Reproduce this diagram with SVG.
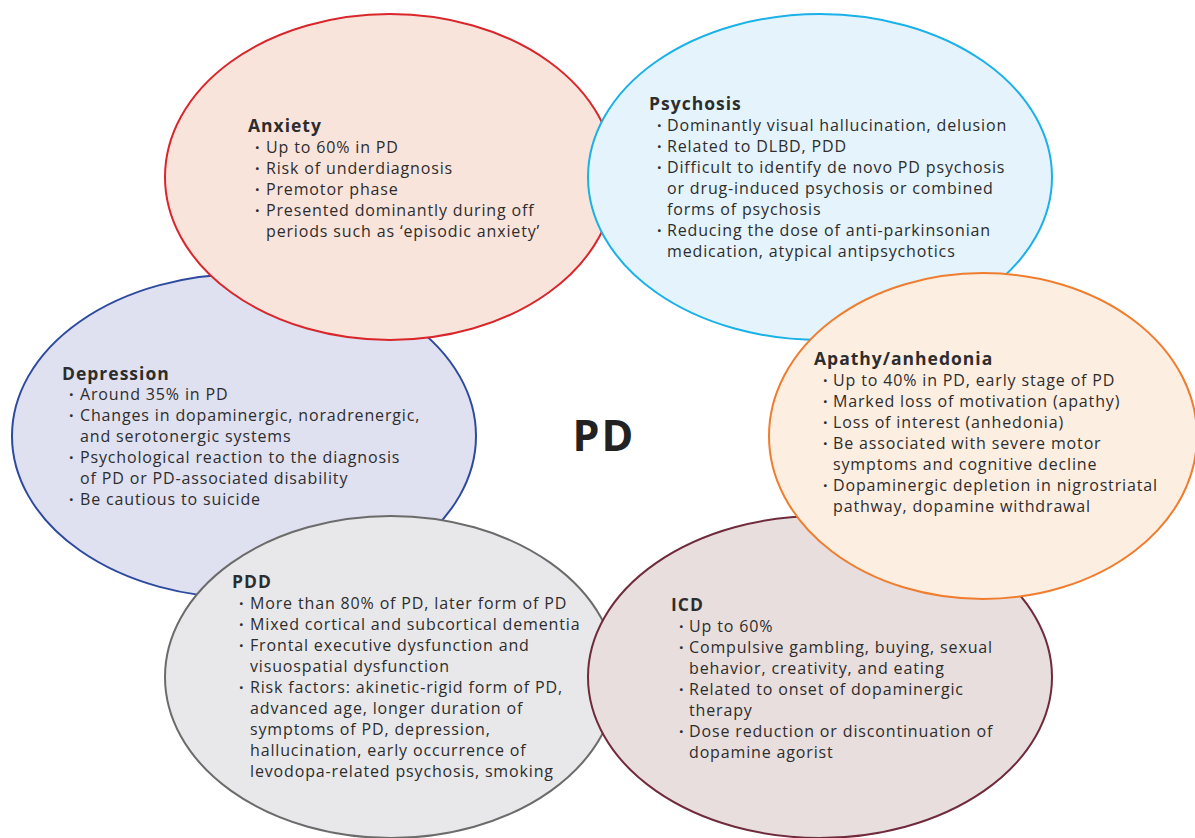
<svg xmlns="http://www.w3.org/2000/svg" width="1195" height="838" viewBox="0 0 1195 838">
<style>
.t{font-family:"Open Sans","Liberation Sans",sans-serif;font-size:16px;letter-spacing:0.85px;fill:#2d2d2d}
.h{font-family:"Open Sans","Liberation Sans",sans-serif;font-size:17.5px;letter-spacing:1px;font-weight:bold;fill:#2d2d2d}
.pd{font-family:"Open Sans","Liberation Sans",sans-serif;font-size:43px;letter-spacing:2px;font-weight:bold;fill:#222}
.b{font-weight:bold}
ellipse{stroke-width:2}
</style>
<rect width="1195" height="838" fill="#ffffff"/>
<g id="depression">
<ellipse cx="244" cy="436" rx="232" ry="162" fill="#dfe0f0" stroke="#2e4a9e"/>
<text class="h" x="62" y="380">Depression</text>
<text class="t"><tspan class="b" x="69" y="400">·</tspan><tspan x="80" y="400">Around 35% in PD</tspan><tspan class="b" x="69" y="421">·</tspan><tspan x="80" y="421">Changes in dopaminergic, noradrenergic,</tspan><tspan x="80" y="442">and serotonergic systems</tspan><tspan class="b" x="69" y="463">·</tspan><tspan x="80" y="463">Psychological reaction to the diagnosis</tspan><tspan x="80" y="484">of PD or PD-associated disability</tspan><tspan class="b" x="69" y="505">·</tspan><tspan x="80" y="505">Be cautious to suicide</tspan></text>
</g>
<g id="pdd">
<ellipse cx="391" cy="677" rx="226" ry="161" fill="#e8e8eb" stroke="#6b6b6b"/>
<text class="h" x="232" y="588">PDD</text>
<text class="t"><tspan class="b" x="239" y="609">·</tspan><tspan x="250" y="609">More than 80% of PD, later form of PD</tspan><tspan class="b" x="239" y="630">·</tspan><tspan x="250" y="630">Mixed cortical and subcortical dementia</tspan><tspan class="b" x="239" y="651">·</tspan><tspan x="250" y="651">Frontal executive dysfunction and</tspan><tspan x="250" y="672">visuospatial dysfunction</tspan><tspan class="b" x="239" y="693">·</tspan><tspan x="250" y="693">Risk factors: akinetic-rigid form of PD,</tspan><tspan x="250" y="714">advanced age, longer duration of</tspan><tspan x="250" y="735">symptoms of PD, depression,</tspan><tspan x="250" y="756">hallucination, early occurrence of</tspan><tspan x="250" y="777">levodopa-related psychosis, smoking</tspan></text>
</g>
<g id="icd">
<ellipse cx="820" cy="677" rx="232" ry="161" fill="#e8dedd" stroke="#6f2a3c"/>
<text class="h" x="671" y="611">ICD</text>
<text class="t"><tspan class="b" x="679" y="632">·</tspan><tspan x="689" y="632">Up to 60%</tspan><tspan class="b" x="679" y="653">·</tspan><tspan x="689" y="653">Compulsive gambling, buying, sexual</tspan><tspan x="689" y="674">behavior, creativity, and eating</tspan><tspan class="b" x="679" y="695">·</tspan><tspan x="689" y="695">Related to onset of dopaminergic</tspan><tspan x="689" y="716">therapy</tspan><tspan class="b" x="679" y="737">·</tspan><tspan x="689" y="737">Dose reduction or discontinuation of</tspan><tspan x="689" y="758">dopamine agorist</tspan></text>
</g>
<g id="anxiety">
<ellipse cx="390" cy="177" rx="225" ry="163" fill="#f9e4dc" stroke="#d9262b"/>
<text class="h" x="248" y="132">Anxiety</text>
<text class="t"><tspan class="b" x="255" y="153">·</tspan><tspan x="266" y="153">Up to 60% in PD</tspan><tspan class="b" x="255" y="174">·</tspan><tspan x="266" y="174">Risk of underdiagnosis</tspan><tspan class="b" x="255" y="195">·</tspan><tspan x="266" y="195">Premotor phase</tspan><tspan class="b" x="255" y="216">·</tspan><tspan x="266" y="216">Presented dominantly during off</tspan><tspan x="266" y="237">periods such as ‘episodic anxiety’</tspan></text>
</g>
<g id="psychosis">
<ellipse cx="820" cy="177" rx="232" ry="163" fill="#e4f3fc" stroke="#1ab1e8"/>
<text class="h" x="649" y="110">Psychosis</text>
<text class="t"><tspan class="b" x="657" y="131">·</tspan><tspan x="667" y="131">Dominantly visual hallucination, delusion</tspan><tspan class="b" x="657" y="152">·</tspan><tspan x="667" y="152">Related to DLBD, PDD</tspan><tspan class="b" x="657" y="173">·</tspan><tspan x="667" y="173">Difficult to identify de novo PD psychosis</tspan><tspan x="667" y="194">or drug-induced psychosis or combined</tspan><tspan x="667" y="215">forms of psychosis</tspan><tspan class="b" x="657" y="236">·</tspan><tspan x="667" y="236">Reducing the dose of anti-parkinsonian</tspan><tspan x="667" y="257">medication, atypical antipsychotics</tspan></text>
</g>
<g id="apathy">
<ellipse cx="983" cy="436" rx="214" ry="163" fill="#fdeee2" stroke="#f07d2e"/>
<text class="h" x="814" y="365">Apathy/anhedonia</text>
<text class="t"><tspan class="b" x="823" y="386">·</tspan><tspan x="833" y="386">Up to 40% in PD, early stage of PD</tspan><tspan class="b" x="823" y="407">·</tspan><tspan x="833" y="407">Marked loss of motivation (apathy)</tspan><tspan class="b" x="823" y="428">·</tspan><tspan x="833" y="428">Loss of interest (anhedonia)</tspan><tspan class="b" x="823" y="449">·</tspan><tspan x="833" y="449">Be associated with severe motor</tspan><tspan x="833" y="470">symptoms and cognitive decline</tspan><tspan class="b" x="823" y="491">·</tspan><tspan x="833" y="491">Dopaminergic depletion in nigrostriatal</tspan><tspan x="833" y="512">pathway, dopamine withdrawal</tspan></text>
</g>
<g id="pd">
<text class="pd" x="604" y="451" text-anchor="middle">PD</text>
</g>
<g id="connectors"></g>
</svg>
